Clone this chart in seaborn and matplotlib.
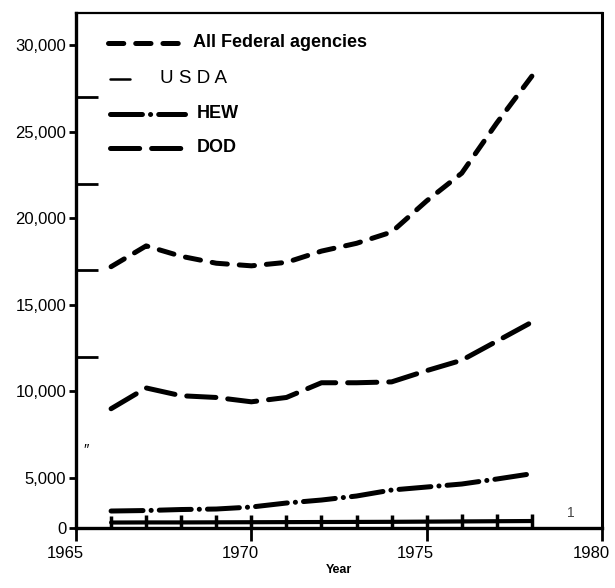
import matplotlib
matplotlib.use("Agg")
import matplotlib.pyplot as plt
import matplotlib.transforms as mtransforms
import numpy as np
import pandas as pd
import seaborn as sns

# Data (millions of dollars, per fiscal year)
years = [1966, 1967, 1968, 1969, 1970, 1971, 1972, 1973, 1974, 1975, 1976, 1977, 1978]
all_federal = [17200, 18400, 17800, 17400, 17250, 17450, 18100, 18550, 19200, 21000, 22600, 25500, 28200]
dod = [9000, 10200, 9750, 9650, 9400, 9650, 10500, 10500, 10550, 11200, 11800, 12900, 14000]
hew = [1700, 1750, 1850, 1900, 2100, 2500, 2800, 3200, 3800, 4100, 4400, 4900, 5250]
usda = [550, 560, 560, 570, 580, 590, 600, 610, 620, 640, 660, 680, 700]

y_ticks = [0, 5000, 10000, 15000, 20000, 25000, 30000]
y_tick_labels = ["0", "5,000", "10,000", "15,000", "20,000", "25,000", "30,000"]
x_ticks = [1965, 1970, 1975, 1980]

df = pd.DataFrame({"year": years, "all": all_federal, "dod": dod, "hew": hew, "usda": usda})

sns.set_style("white")
plt.rcParams["font.family"] = ["Liberation Sans", "DejaVu Sans"]
plt.rcParams["lines.scale_dashes"] = False
plt.rcParams["text.color"] = "black"
plt.rcParams["axes.labelcolor"] = "black"
plt.rcParams["xtick.color"] = "black"
plt.rcParams["ytick.color"] = "black"


# broken axis in the original: bottom 0-5,000 is squeezed
def fwd(v):
    v = np.asarray(v, dtype=float)
    return np.where(v <= 5000, v * 0.01, 50 + (v - 5000) * 0.01732)


def inv(p):
    p = np.asarray(p, dtype=float)
    return np.where(p <= 50, p * 100, 5000 + (p - 50) / 0.01732)


fig = plt.figure(figsize=(6.15, 5.88), dpi=100)
ax = fig.add_axes([0.1236, 0.102, 0.8553, 0.876])
ax.set_yscale("function", functions=(fwd, inv))

lw = 3.6
styles = {
    "all": (0, (11, 8.6)),
    "dod": (0, (21, 8.6)),
    "hew": (0, (23, 5.8, 0.1, 5.8)),
}
for col in ["all", "dod", "hew"]:
    sns.lineplot(data=df, x="year", y=col, ax=ax, color="black", lw=lw,
                 linestyle=styles[col], dash_capstyle="round", solid_capstyle="round")
sns.lineplot(data=df, x="year", y="usda", ax=ax, color="black", lw=3,
             marker="|", markersize=10, markeredgewidth=2.5, markeredgecolor="black")

ax.set_xlim(1965, 1980)
ax.set_ylim(0, 31850)
ax.set_xticks(x_ticks)
ax.set_xticklabels([str(x) for x in x_ticks], fontsize=12)
ax.set_yticks(y_ticks)
ax.set_yticklabels(y_tick_labels, fontsize=12)
ax.set_yticks([12000, 17000, 22000, 27000], minor=True)
ax.tick_params(axis="y", which="both", left=True)
ax.tick_params(axis="x", which="both", bottom=True)
ax.tick_params(axis="y", which="major", direction="out", length=5, width=2, pad=2)
ax.tick_params(axis="y", which="minor", direction="in", length=16, width=2)
ax.tick_params(axis="x", which="major", direction="out", length=9, width=2, pad=4)
ax.set_xlabel("Year", fontsize=9, fontweight="bold", labelpad=2)
ax.set_ylabel("")

# year labels sit a little left of their ticks in the scan
shift = mtransforms.ScaledTranslation(-8 / 72, 0, fig.dpi_scale_trans)
for lab in ax.get_xticklabels():
    lab.set_transform(lab.get_transform() + shift)

for side, w in [("left", 2.4), ("bottom", 2.4), ("right", 2.2), ("top", 1.6)]:
    ax.spines[side].set_visible(True)
    ax.spines[side].set_linewidth(w)
    ax.spines[side].set_color("black")

# legend drawn by hand to match the scanned layout
tr = ax.transAxes
ax.plot([0.061, 0.2015], [0.942, 0.942], transform=tr, color="black", lw=lw,
        linestyle=styles["all"], dash_capstyle="round", clip_on=False)
ax.text(0.222, 0.942, "All Federal agencies", transform=tr, fontsize=13,
        fontweight="bold", va="center", ha="left")
ax.plot([0.065, 0.103], [0.872, 0.872], transform=tr, color="black", lw=1.8)
ax.text(0.16, 0.872, "U S D A", transform=tr, fontsize=13.5, va="center", ha="left")
ax.plot([0.065, 0.207], [0.804, 0.804], transform=tr, color="black", lw=lw,
        linestyle=styles["hew"], dash_capstyle="round")
ax.text(0.23, 0.804, "HEW", transform=tr, fontsize=13, fontweight="bold",
        va="center", ha="left")
ax.plot([0.065, 0.2015], [0.738, 0.738], transform=tr, color="black", lw=lw,
        linestyle=styles["dod"], dash_capstyle="round")
ax.text(0.23, 0.738, "DOD", transform=tr, fontsize=13, fontweight="bold",
        va="center", ha="left")

# stray marks from the scan
ax.text(1979.1, 800, "1", fontsize=10, color="#444444", ha="center", va="bottom")
ax.text(1965.3, 6600, "\u2033", fontsize=11, ha="center", va="center")

fig.savefig("out.png", dpi=100)
